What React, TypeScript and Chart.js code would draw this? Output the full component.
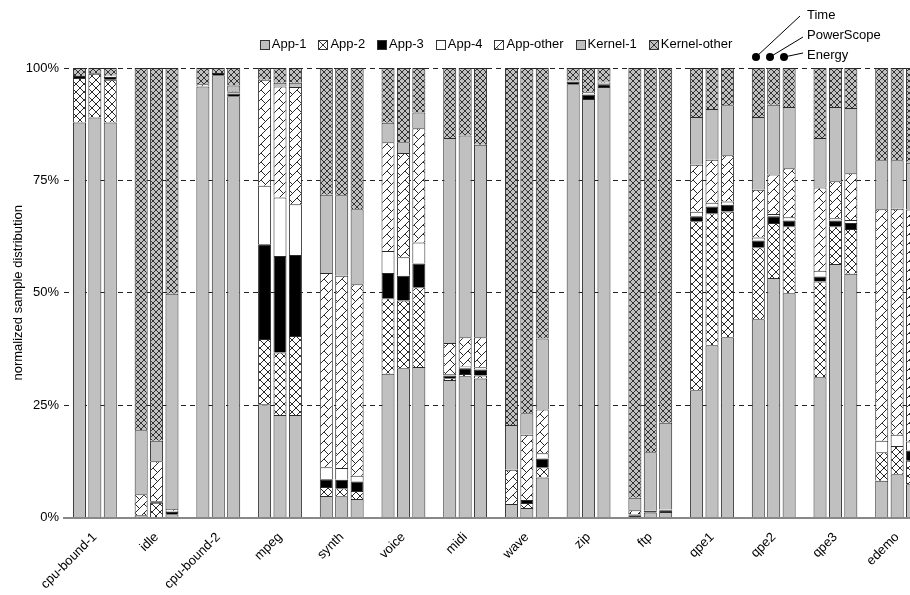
import React, { useEffect, useRef } from 'react';
import { Chart, registerables } from 'chart.js';

Chart.register(...registerables);

const FONT = '"Liberation Sans", Arial, Helvetica, sans-serif';

const categories = ['cpu-bound-1', 'idle', 'cpu-bound-2', 'mpeg', 'synth', 'voice', 'midi', 'wave', 'zip', 'ftp', 'qpe1', 'qpe2', 'qpe3', 'edemo'];
const methods = ['Time', 'PowerScope', 'Energy'];
const seriesNames = ['App-1', 'App-2', 'App-3', 'App-4', 'App-other', 'Kernel-1', 'Kernel-other'];
const yTickLabels = ['0%', '25%', '50%', '75%', '100%'];
const yTitle = 'normalized sample distribution';

// Time
const timeApp1 = [87.9, 0.5, 95.9, 25.2, 4.8, 32.0, 30.6, 3.0, 96.4, 0, 28.3, 44.1, 31.2, 8.2];
const timeApp2 = [9.9, 0, 0, 14.5, 2.0, 16.8, 0.4, 0, 0, 0, 37.6, 16.0, 21.3, 6.3];
const timeApp3 = [0.4, 0, 0, 21.1, 1.7, 5.6, 0.6, 0, 0.6, 0.5, 1.1, 1.5, 1.1, 0];
const timeApp4 = [0, 0, 0, 13.0, 2.7, 4.9, 0.3, 0, 0.2, 0.2, 1.0, 0.7, 1.3, 2.6];
const timeAppOther = [0, 4.7, 0.5, 23.6, 43.2, 24.2, 6.9, 7.6, 0, 0.9, 10.5, 10.6, 18.5, 51.5];
const timeKernel1 = [0, 14.2, 0, 0, 17.4, 4.3, 45.6, 10.0, 0, 2.8, 10.6, 16.2, 11.0, 10.9];
const timeKernelOther = [1.8, 80.6, 3.6, 2.6, 28.2, 12.2, 15.6, 79.4, 2.8, 95.6, 10.9, 10.9, 15.6, 20.5];

// PowerScope
const psApp1 = [89.0, 0, 98.4, 22.8, 4.7, 33.2, 31.4, 2.1, 93.1, 1.1, 38.3, 53.3, 56.4, 9.6];
const psApp2 = [9.7, 3.3, 0, 13.9, 1.8, 15.1, 0.5, 1.1, 0, 0, 29.4, 12.2, 8.4, 6.3];
const psApp3 = [0.2, 0.3, 0.5, 21.5, 1.9, 5.5, 1.3, 0.7, 1.0, 0.4, 1.5, 1.5, 1.3, 0];
const psApp4 = [0, 0, 0, 13.0, 2.6, 4.1, 0.4, 0, 0.5, 0, 0.8, 0.5, 0.5, 2.5];
const psAppOther = [0, 8.9, 0, 24.7, 42.8, 23.2, 6.5, 14.5, 0.3, 0, 9.6, 8.8, 8.2, 50.3];
const psKernel1 = [0, 4.6, 0, 0.8, 17.9, 2.4, 44.9, 4.8, 0, 13.0, 11.3, 15.5, 16.5, 10.8];
const psKernelOther = [1.1, 82.9, 1.1, 3.3, 28.3, 16.5, 15.0, 76.8, 5.1, 85.5, 9.1, 8.2, 8.7, 20.5];

// Energy
const enApp1 = [87.9, 0.7, 93.7, 22.8, 4.1, 33.5, 30.9, 8.9, 95.8, 1.2, 40.1, 49.9, 54.2, 7.4];
const enApp2 = [9.5, 0, 0, 17.6, 1.8, 17.7, 0.7, 2.3, 0, 0, 28.0, 14.9, 10.0, 5.2];
const enApp3 = [0.6, 0.5, 0.6, 18.0, 2.1, 5.3, 1.3, 1.9, 0.6, 0.4, 1.5, 1.3, 1.3, 2.3];
const enApp4 = [0.3, 0.3, 0.3, 11.3, 1.3, 4.7, 0.5, 1.2, 0.3, 0.2, 0.7, 0.7, 0.7, 2.0];
const enAppOther = [0, 0.4, 0.2, 26.1, 42.6, 25.4, 6.7, 9.7, 0.3, 0, 10.3, 10.9, 10.4, 51.6];
const enKernel1 = [0, 47.9, 1.3, 0.9, 16.7, 3.5, 42.8, 15.8, 0, 19.3, 11.1, 13.6, 14.5, 10.4];
const enKernelOther = [1.7, 50.2, 3.9, 3.3, 31.4, 9.9, 17.1, 60.2, 3.0, 78.9, 8.3, 8.7, 8.9, 21.1];

const timeValues = [timeApp1, timeApp2, timeApp3, timeApp4, timeAppOther, timeKernel1, timeKernelOther];
const psValues = [psApp1, psApp2, psApp3, psApp4, psAppOther, psKernel1, psKernelOther];
const enValues = [enApp1, enApp2, enApp3, enApp4, enAppOther, enKernel1, enKernelOther];
const methodValues = [timeValues, psValues, enValues];

const GRAY = '#c0c0c0';
const LINE = '#2a2a2a';

function makeTile(size: number, bg: string, color: string, kinds: string[]) {
  const c = document.createElement('canvas');
  c.width = size;
  c.height = size;
  const g = c.getContext('2d') as CanvasRenderingContext2D;
  g.fillStyle = bg;
  g.fillRect(0, 0, size, size);
  g.strokeStyle = color;
  g.lineWidth = 1;
  for (const k of kinds) {
    g.beginPath();
    if (k === '/') {
      for (const o of [-size, 0, size]) {
        g.moveTo(o, size);
        g.lineTo(o + size, 0);
      }
    } else if (k === '\\') {
      for (const o of [-size, 0, size]) {
        g.moveTo(o, 0);
        g.lineTo(o + size, size);
      }
    } else if (k === 'half') {
      g.moveTo(0, 0);
      g.lineTo(size / 2, size / 2);
    }
    g.stroke();
  }
  return c;
}

function App() {
  const ref = useRef<HTMLCanvasElement | null>(null);

  useEffect(() => {
    const canvas = ref.current;
    if (!canvas) return;
    const ctx = canvas.getContext('2d') as CanvasRenderingContext2D;

    const crossWhite = ctx.createPattern(makeTile(8, '#ffffff', LINE, ['/', '\\']), 'repeat');
    const diagWhite = ctx.createPattern(makeTile(9, '#ffffff', LINE, ['/', 'half']), 'repeat');
    const crossGray = ctx.createPattern(makeTile(6, GRAY, '#333333', ['/', '\\']), 'repeat');

    const fills: any[] = [GRAY, crossWhite, '#000000', '#ffffff', diagWhite, GRAY, crossGray];

    const datasets: any[] = [];
    methods.forEach((m, mi) => {
      seriesNames.forEach((s, si) => {
        datasets.push({
          label: s + ' (' + m + ')',
          data: methodValues[mi][si].map((v) => (v === 0 ? null : v)),
          stack: m,
          backgroundColor: fills[si],
          borderColor: LINE,
          borderWidth: 1,
          borderSkipped: 'start',
          inflateAmount: 0,
          categoryPercentage: 0.749,
          barPercentage: 0.845,
        });
      });
    });

    const legendPlugin = {
      id: 'customLegend',
      afterDraw(chart: any) {
        const c = chart.ctx as CanvasRenderingContext2D;
        const area = chart.chartArea;
        c.save();
        c.font = '13px ' + FONT;
        const box = 9;
        const gapBT = 3;
        const gapItem = 12;
        const widths = seriesNames.map((n) => c.measureText(n).width);
        const total = widths.reduce((a, w) => a + box + gapBT + w, 0) + gapItem * (seriesNames.length - 1);
        let x = (area.left + area.right) / 2 - total / 2;
        const y = 44;
        seriesNames.forEach((n, i) => {
          const bx = Math.round(x) + 0.5;
          const by = Math.round(y - box / 2) + 0.5;
          const bw = box;
          c.fillStyle = i === 2 ? '#000' : i === 0 || i === 5 || i === 6 ? GRAY : '#fff';
          c.fillRect(bx, by, bw, bw);
          c.strokeStyle = '#333';
          c.lineWidth = 1;
          if (i === 1 || i === 6) {
            c.beginPath();
            c.moveTo(bx, by);
            c.lineTo(bx + bw, by + bw);
            c.moveTo(bx + bw, by);
            c.lineTo(bx, by + bw);
            c.stroke();
          } else if (i === 4) {
            c.beginPath();
            c.moveTo(bx, by + bw);
            c.lineTo(bx + bw, by);
            c.moveTo(bx + bw / 2, by + bw);
            c.lineTo(bx + bw * 0.25, by + bw * 0.75);
            c.stroke();
          }
          c.strokeRect(bx, by, bw, bw);
          c.fillStyle = '#000';
          c.textAlign = 'left';
          c.textBaseline = 'middle';
          c.fillText(n, x + box + gapBT, y + 0.5);
          x += box + gapBT + widths[i] + gapItem;
        });
        c.restore();
      },
    };

    const annotationPlugin = {
      id: 'methodKey',
      afterDraw(chart: any) {
        const c = chart.ctx as CanvasRenderingContext2D;
        c.save();
        const dots = [[756, 57], [770, 57], [784, 57]];
        const ends = [[800, 16], [803, 37], [803, 53]];
        const texts = [[807, 15], [807, 35], [807, 55]];
        c.strokeStyle = '#000';
        c.fillStyle = '#000';
        c.lineWidth = 1;
        c.font = '13px ' + FONT;
        c.textAlign = 'left';
        c.textBaseline = 'middle';
        methods.forEach((m, i) => {
          c.beginPath();
          c.moveTo(dots[i][0], dots[i][1]);
          c.lineTo(ends[i][0], ends[i][1]);
          c.stroke();
          c.beginPath();
          c.arc(dots[i][0], dots[i][1], 4, 0, Math.PI * 2);
          c.fill();
          c.fillText(m, texts[i][0], texts[i][1]);
        });
        c.restore();
      },
    };

    const chart = new Chart(canvas, {
      type: 'bar',
      data: { labels: categories, datasets },
      options: {
        responsive: false,
        animation: false,
        devicePixelRatio: 1,
        layout: { padding: { left: 0, right: 12, top: 68, bottom: 0 } },
        plugins: {
          legend: { display: false },
          tooltip: { enabled: false },
          title: { display: false },
        },
        scales: {
          x: {
            stacked: true,
            offset: true,
            grid: { display: false, drawTicks: false },
            border: { display: true, color: '#888', width: 2 },
            ticks: {
              autoSkip: false,
              maxRotation: 45,
              minRotation: 45,
              padding: 12,
              color: '#000',
              font: { family: FONT, size: 13 },
            },
            afterFit: (s: any) => {
              s.height = 77.5;
            },
          },
          y: {
            stacked: true,
            min: 0,
            max: 100,
            ticks: {
              stepSize: 25,
              padding: 5,
              color: '#000',
              font: { family: FONT, size: 13 },
              callback: (v: any) => yTickLabels[Math.round(Number(v) / 25)],
            },
            grid: {
              drawTicks: false,
              lineWidth: 1,
              color: (c: any) => (c.tick && c.tick.value === 0 ? 'rgba(0,0,0,0)' : '#222'),
            },
            border: { display: false, dash: [5, 4] },
            title: {
              display: true,
              text: yTitle,
              color: '#000',
              font: { family: FONT, size: 13 },
              padding: { top: 11, bottom: 0 },
            },
            afterFit: (s: any) => {
              s.width = 64;
            },
          },
        },
      },
      plugins: [legendPlugin, annotationPlugin],
    } as any);

    return () => chart.destroy();
  }, []);

  return (
    <div style={{ position: 'absolute', left: 0, top: 0, width: 910, height: 595, overflow: 'hidden', background: '#fff' }}>
      <canvas ref={ref} width={940} height={595} style={{ display: 'block', width: 940, height: 595 }} />
    </div>
  );
}

export default App;
